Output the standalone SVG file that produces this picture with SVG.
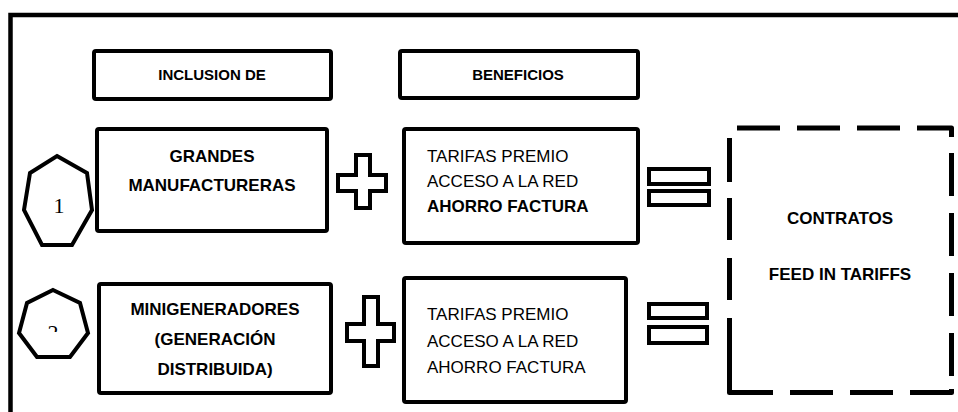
<svg xmlns="http://www.w3.org/2000/svg" width="958" height="412" viewBox="0 0 958 412">
<style>
.box{fill:#fff;stroke:#000;stroke-width:4;stroke-linejoin:round}
.sym{fill:#fff;stroke:#000;stroke-width:4;stroke-linejoin:miter}
.dash{fill:none;stroke:#000;stroke-width:5;stroke-linecap:butt;stroke-linejoin:round}
.b{font-family:"Liberation Sans",Arial,sans-serif;font-weight:bold;font-size:17px;fill:#000}
.h{font-family:"Liberation Sans",Arial,sans-serif;font-weight:bold;font-size:15px;fill:#000}
.r{font-family:"Liberation Sans",Arial,sans-serif;font-size:17px;fill:#000}
.n{font-family:"Liberation Serif","Times New Roman",serif;font-size:22px;fill:#000}
</style>
<defs>
<clipPath id="clip2"><rect x="40" y="300" width="30" height="32"/></clipPath>
</defs>
<rect width="958" height="412" fill="#fff"/>
<path d="M10.5,412 V15 H958" fill="none" stroke="#000" stroke-width="4.5"/>

<g id="header-inclusion">
<rect class="box" x="94" y="51" width="237" height="48" rx="2"/>
<text class="h" x="212" y="80" text-anchor="middle">INCLUSION DE</text>
</g>
<g id="header-beneficios">
<rect class="box" x="400" y="51" width="238" height="47" rx="2"/>
<text class="h" x="518" y="80" text-anchor="middle">BENEFICIOS</text>
</g>

<g id="badge-1">
<polygon class="sym" points="57,156 87,173 92,210 72,245 42,245 24,210 30,173"/>
<text class="n" x="59" y="213" text-anchor="middle">1</text>
</g>
<g id="badge-2">
<polygon class="sym" points="53,290 80,303 88,333 70,357 37,357 19,333 27,303"/>
<text class="n" x="53" y="340" text-anchor="middle" clip-path="url(#clip2)">2</text>
</g>

<g id="grandes">
<rect class="box" x="97" y="129" width="230" height="102" rx="2"/>
<text class="b" x="212" y="162" text-anchor="middle">GRANDES</text>
<text class="b" x="212" y="191" text-anchor="middle">MANUFACTURERAS</text>
</g>
<g id="beneficios-1">
<rect class="box" x="404" y="129" width="234" height="114" rx="2"/>
<text class="r" x="427" y="162">TARIFAS PREMIO</text>
<text class="r" x="427" y="187">ACCESO A LA RED</text>
<text class="b" x="427" y="212">AHORRO FACTURA</text>
</g>
<g id="minigeneradores">
<rect class="box" x="99" y="284" width="232" height="109" rx="2"/>
<text class="b" x="215" y="315" text-anchor="middle">MINIGENERADORES</text>
<text class="b" x="215" y="345" text-anchor="middle">(GENERACIÓN</text>
<text class="b" x="215" y="375" text-anchor="middle">DISTRIBUIDA)</text>
</g>
<g id="beneficios-2">
<rect class="box" x="404" y="278" width="222" height="124" rx="2"/>
<text class="r" x="427" y="320">TARIFAS PREMIO</text>
<text class="r" x="427" y="347">ACCESO A LA RED</text>
<text class="r" x="427" y="373">AHORRO FACTURA</text>
</g>

<g id="contratos">
<path class="dash" d="M737,128 H780 M797,128 H840 M857,128 H900 M917,128 H951.5 V137 M951.5,153 V196 M951.5,213 V256 M951.5,273 V316 M951.5,333 V376 M951.5,389 V392.5 H910 M893,392.5 H850 M833,392.5 H790 M773,392.5 H729.5 V318 M729.5,300 V258 M729.5,240 V198 M729.5,182 V138"/>
<text class="b" x="840" y="224" text-anchor="middle">CONTRATOS</text>
<text class="b" x="840" y="280" text-anchor="middle">FEED IN TARIFFS</text>
</g>

<g id="operators">
<path id="plus-1" class="sym" d="M356,155 H370 V175 H386 V191 H370 V208 H356 V191 H338 V175 H356 Z"/>
<path id="plus-2" class="sym" d="M364,297 H378 V324 H394 V341 H378 V366 H364 V341 H347 V324 H364 Z"/>
<g id="equals-1">
<rect class="sym" x="649" y="169" width="60" height="15"/>
<rect class="sym" x="649" y="191" width="60" height="14"/>
</g>
<g id="equals-2">
<rect class="sym" x="649" y="304" width="58" height="14"/>
<rect class="sym" x="649" y="327" width="58" height="16"/>
</g>
</g>
</svg>
